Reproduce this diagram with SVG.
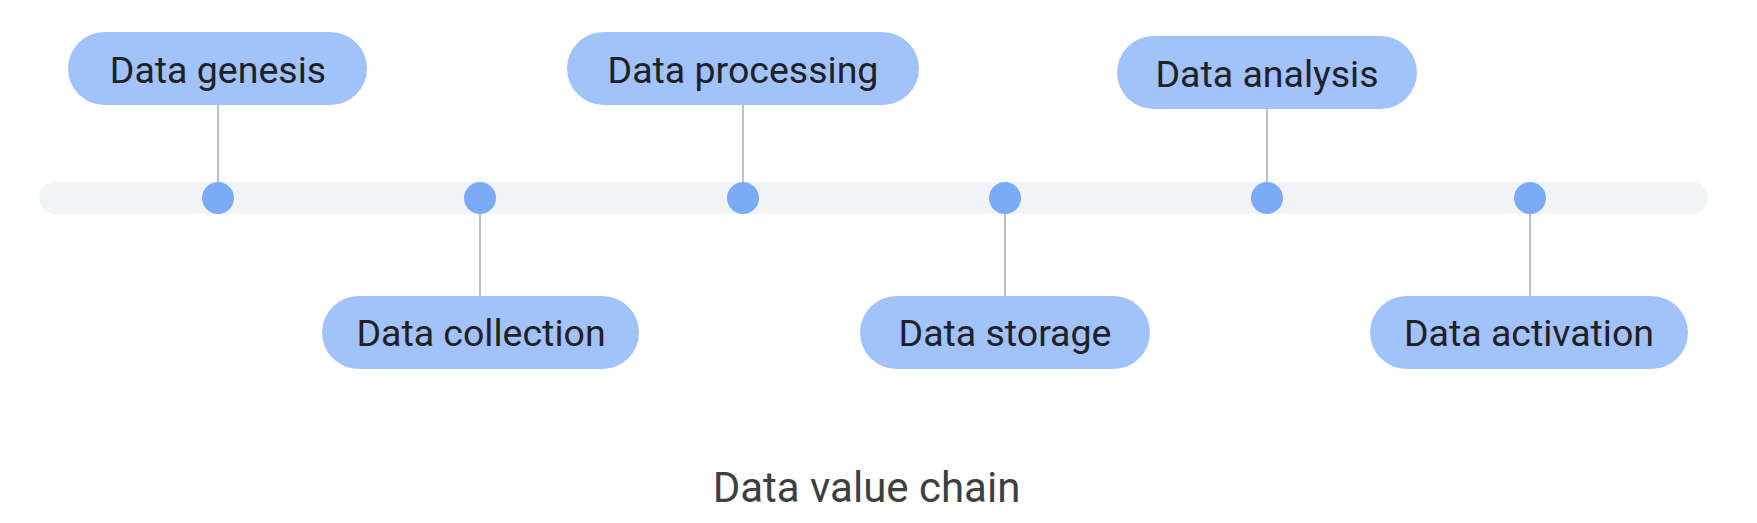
<svg xmlns="http://www.w3.org/2000/svg" width="1757" height="523" viewBox="0 0 1757 523">
<style>
.pill{fill:#a1c2fa}
.dot{fill:#7baaf7}
.stem{stroke:#bdc1c6;stroke-width:2;fill:none}
.lbl{font-family:Roboto,"Liberation Sans",sans-serif;font-size:37.5px;fill:#202124;text-anchor:middle}
.title{font-family:Roboto,"Liberation Sans",sans-serif;font-size:42px;fill:#3c4043;text-anchor:middle}
</style>
<rect width="1757" height="523" fill="#ffffff"/>
<rect id="track" x="39" y="182" width="1669" height="32" rx="16" fill="#f1f3f4"/>
<g id="connectors">
<line class="stem" x1="218" y1="105" x2="218" y2="198"/>
<line class="stem" x1="480" y1="198" x2="480" y2="296"/>
<line class="stem" x1="743" y1="105" x2="743" y2="198"/>
<line class="stem" x1="1005" y1="198" x2="1005" y2="296"/>
<line class="stem" x1="1267" y1="109" x2="1267" y2="198"/>
<line class="stem" x1="1530" y1="198" x2="1530" y2="296"/>
</g>
<g id="dots">
<circle class="dot" cx="218" cy="198" r="16"/>
<circle class="dot" cx="480" cy="198" r="16"/>
<circle class="dot" cx="743" cy="198" r="16"/>
<circle class="dot" cx="1005" cy="198" r="16"/>
<circle class="dot" cx="1267" cy="198" r="16"/>
<circle class="dot" cx="1530" cy="198" r="16"/>
</g>
<g id="node-genesis">
<rect class="pill" x="68" y="32" width="299" height="73" rx="36.5"/>
<text class="lbl" x="218" y="83">Data genesis</text>
</g>
<g id="node-collection">
<rect class="pill" x="322" y="296" width="317" height="73" rx="36.5"/>
<text class="lbl" x="481" y="346">Data collection</text>
</g>
<g id="node-processing">
<rect class="pill" x="567" y="32" width="352" height="73" rx="36.5"/>
<text class="lbl" x="743" y="83">Data processing</text>
</g>
<g id="node-storage">
<rect class="pill" x="860" y="296" width="290" height="73" rx="36.5"/>
<text class="lbl" x="1005" y="346">Data storage</text>
</g>
<g id="node-analysis">
<rect class="pill" x="1117" y="36" width="300" height="73" rx="36.5"/>
<text class="lbl" x="1267" y="87">Data analysis</text>
</g>
<g id="node-activation">
<rect class="pill" x="1370" y="296" width="318" height="73" rx="36.5"/>
<text class="lbl" x="1529" y="346">Data activation</text>
</g>
<text class="title" x="866.5" y="502">Data value chain</text>
</svg>
